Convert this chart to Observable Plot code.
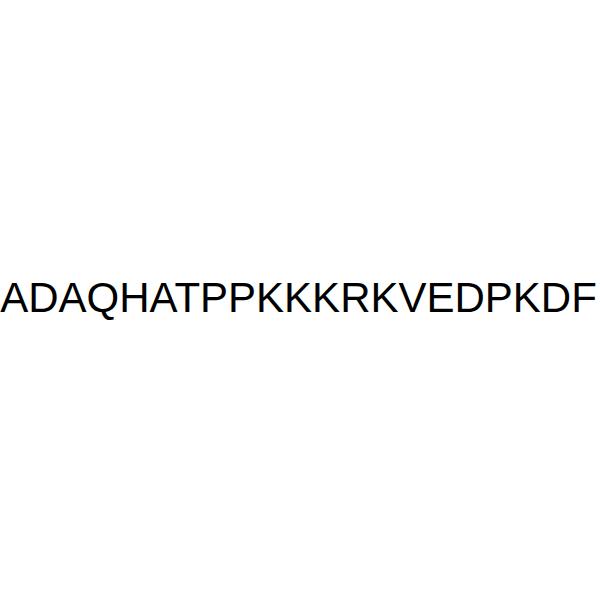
<!DOCTYPE html>
<html>
<head>
<meta charset="utf-8">
<script src="https://cdn.jsdelivr.net/npm/d3@7"></script>
<script src="https://cdn.jsdelivr.net/npm/@observablehq/plot@0.6"></script>
<style>
  html, body { margin: 0; padding: 0; background: #fff; }
</style>
</head>
<body>
<div id="chart"></div>
<script>
const labels = ["ADAQHATPPKKKRKVEDPKDF"];

const chart = Plot.plot({
  width: 600,
  height: 600,
  margin: 0,
  style: { background: "#fff" },
  marks: [
    Plot.text(labels, {
      text: d => d,
      frameAnchor: "middle",
      dx: -2,
      dy: -2,
      fontSize: 42,
      fontFamily: "Liberation Sans, Arial, sans-serif",
      fill: "#000"
    })
  ]
});
document.getElementById("chart").appendChild(chart);
</script>
</body>
</html>
